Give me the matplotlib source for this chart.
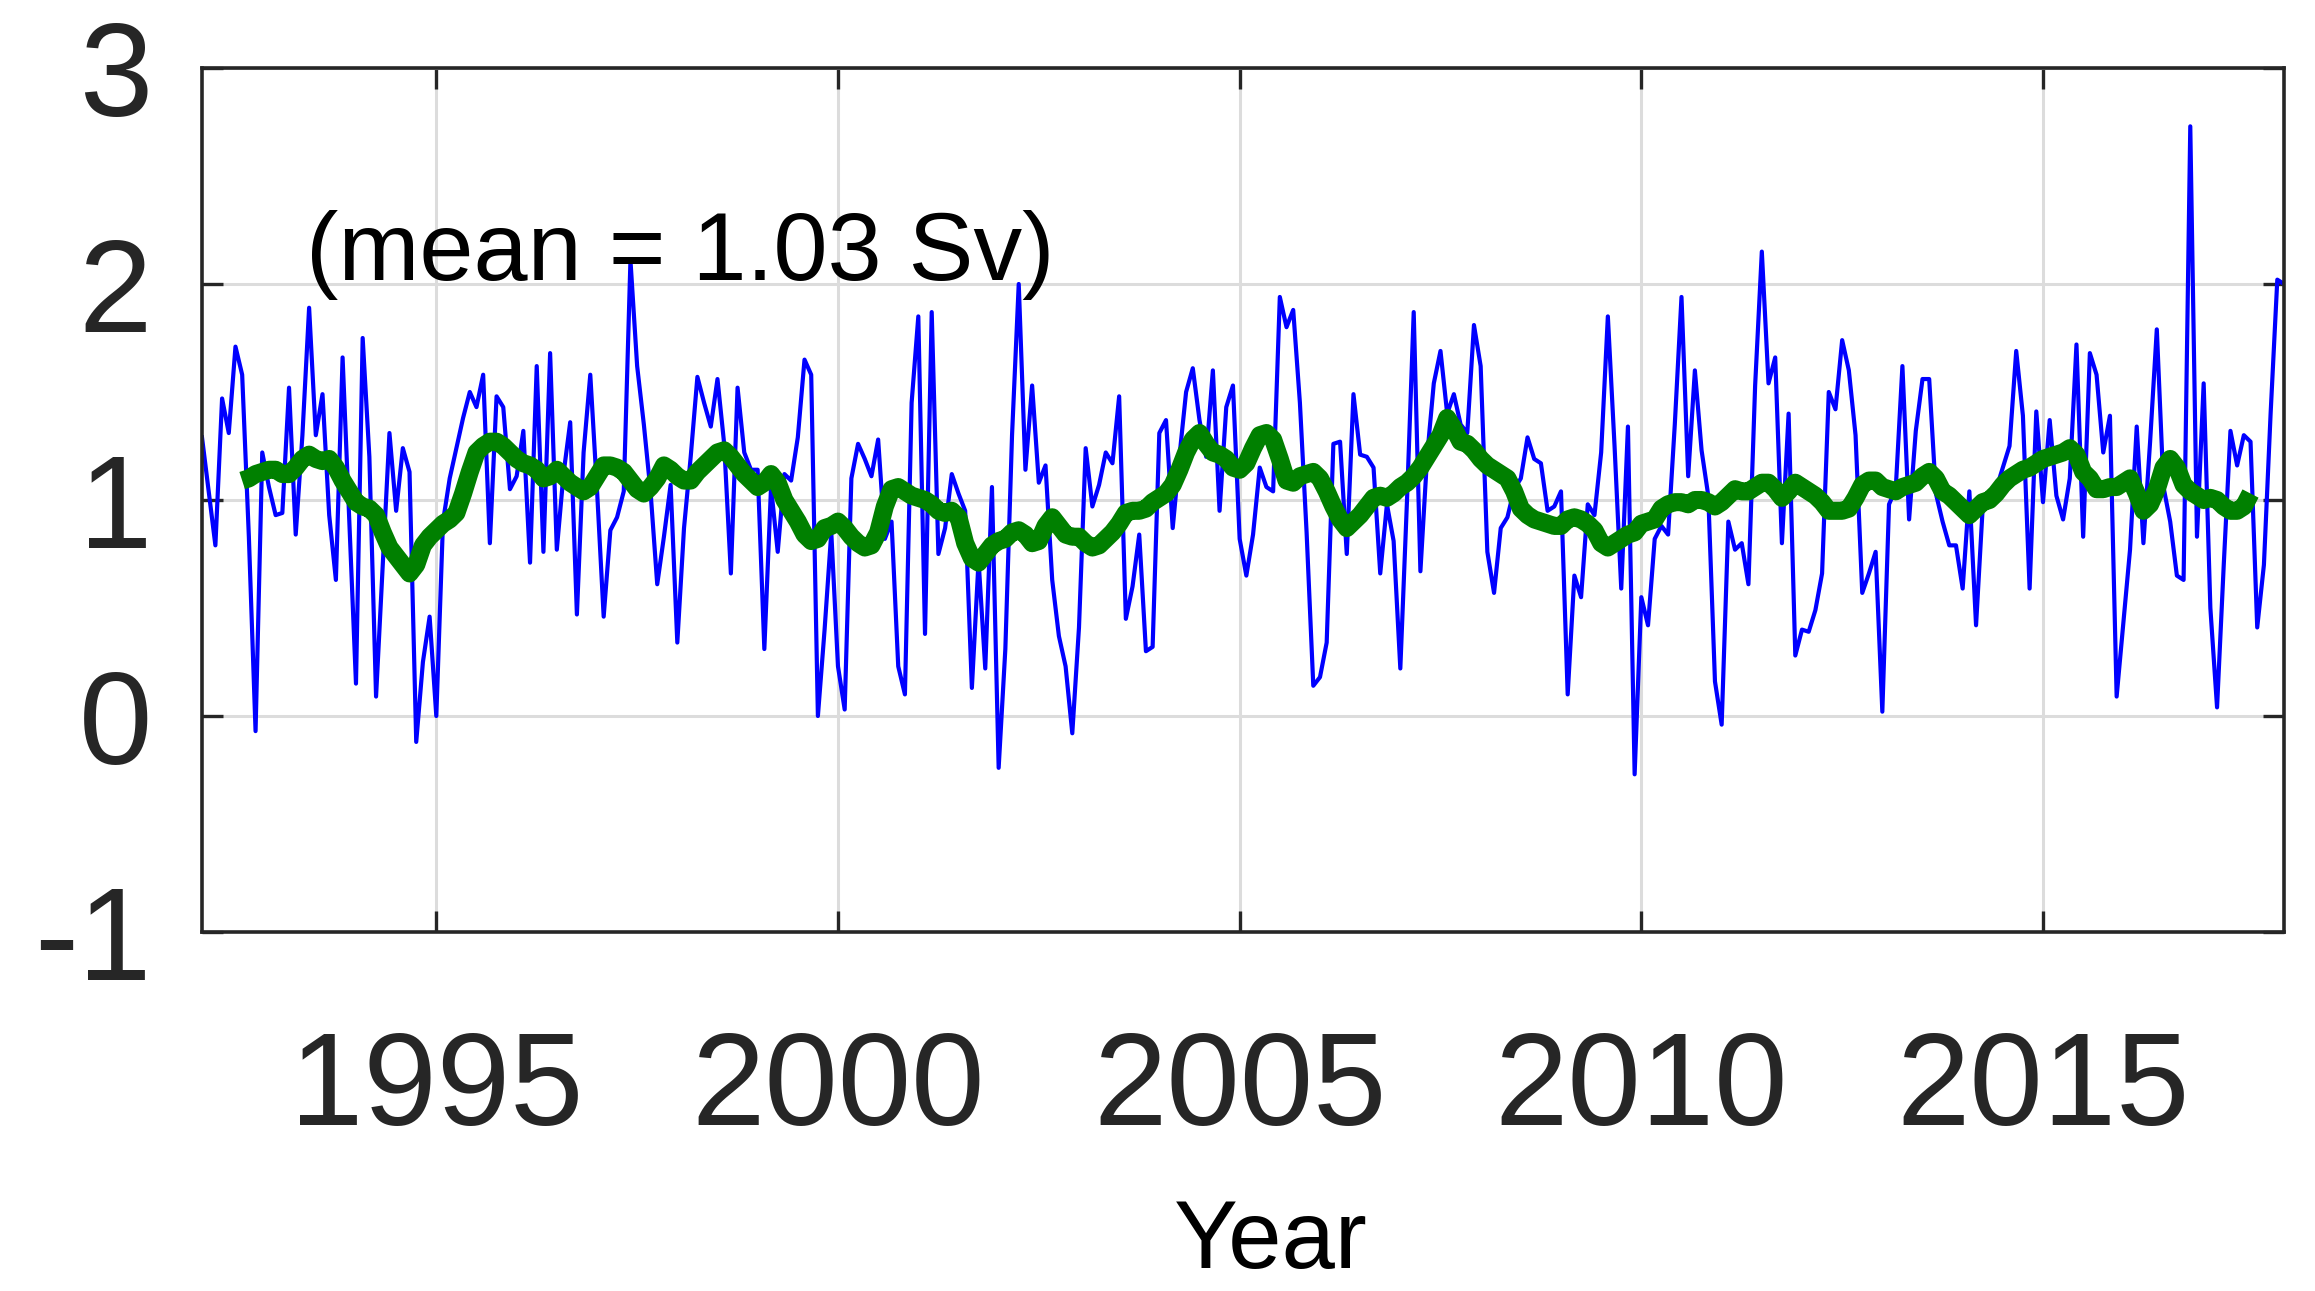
import numpy as np
import matplotlib
matplotlib.use("Agg")
import matplotlib.pyplot as plt

# ---------------- data ----------------
start_year = 1992          # first sample is Feb 1992, monthly to Jan 2018
transport = [
    1.29, 1.04, 0.79, 1.47, 1.31, 1.71, 1.58, 0.83, -0.07, 1.22,
    1.06, 0.93, 0.94, 1.52, 0.84, 1.30, 1.89, 1.30, 1.49, 0.93,
    0.63, 1.66, 0.90, 0.15, 1.75, 1.20, 0.09, 0.70, 1.31, 0.95,
    1.24, 1.13, -0.12, 0.25, 0.46, 0.00, 0.90, 1.10, 1.24, 1.38,
    1.50, 1.43, 1.58, 0.80, 1.48, 1.43, 1.05, 1.11, 1.32, 0.71,
    1.62, 0.76, 1.68, 0.77, 1.12, 1.36, 0.47, 1.22, 1.58, 1.05,
    0.46, 0.86, 0.92, 1.04, 2.11, 1.62, 1.35, 1.04, 0.61, 0.83,
    1.07, 0.34, 0.87, 1.20, 1.57, 1.45, 1.34, 1.56, 1.26, 0.66,
    1.52, 1.22, 1.14, 1.14, 0.31, 1.06, 0.76, 1.12, 1.09, 1.29,
    1.65, 1.58, 0.00, 0.40, 0.85, 0.23, 0.03, 1.10, 1.26, 1.19,
    1.11, 1.28, 0.82, 0.90, 0.23, 0.10, 1.45, 1.85, 0.38, 1.87,
    0.75, 0.87, 1.12, 1.03, 0.95, 0.13, 0.72, 0.22, 1.06, -0.24,
    0.31, 1.30, 2.00, 1.14, 1.53, 1.08, 1.16, 0.63, 0.37, 0.23,
    -0.08, 0.41, 1.24, 0.97, 1.07, 1.22, 1.17, 1.48, 0.45, 0.60,
    0.84, 0.30, 0.32, 1.31, 1.37, 0.87, 1.20, 1.50, 1.61, 1.37,
    1.20, 1.60, 0.95, 1.43, 1.53, 0.82, 0.65, 0.84, 1.15, 1.06,
    1.04, 1.94, 1.80, 1.88, 1.45, 0.85, 0.14, 0.18, 0.34, 1.26,
    1.27, 0.75, 1.49, 1.21, 1.20, 1.15, 0.66, 0.98, 0.81, 0.22,
    1.00, 1.87, 0.67, 1.20, 1.54, 1.69, 1.40, 1.49, 1.35, 1.31,
    1.81, 1.62, 0.76, 0.57, 0.87, 0.92, 1.05, 1.10, 1.29, 1.19,
    1.17, 0.95, 0.97, 1.04, 0.10, 0.65, 0.55, 0.98, 0.93, 1.22,
    1.85, 1.25, 0.59, 1.34, -0.27, 0.55, 0.42, 0.82, 0.88, 0.84,
    1.35, 1.94, 1.11, 1.60, 1.23, 1.02, 0.16, -0.04, 0.90, 0.77,
    0.80, 0.61, 1.53, 2.15, 1.54, 1.66, 0.80, 1.40, 0.28, 0.40,
    0.39, 0.49, 0.66, 1.50, 1.42, 1.74, 1.60, 1.30, 0.57, 0.66,
    0.76, 0.02, 0.98, 1.05, 1.62, 0.91, 1.32, 1.56, 1.56, 1.03,
    0.90, 0.79, 0.79, 0.59, 1.04, 0.42, 0.97, 1.03, 1.05, 1.15,
    1.25, 1.69, 1.39, 0.59, 1.41, 0.99, 1.37, 1.02, 0.91, 1.10,
    1.72, 0.83, 1.68, 1.58, 1.22, 1.39, 0.09, 0.43, 0.77, 1.34,
    0.80, 1.27, 1.79, 1.06, 0.90, 0.65, 0.63, 2.73, 0.83, 1.54,
    0.50, 0.04, 0.70, 1.32, 1.16, 1.30, 1.27, 0.41, 0.70, 1.40,
    2.02, 2.00,
]

smooth_offset = 6          # smoothed curve starts at the 7th month
smoothed = [
    1.09, 1.10, 1.12, 1.13, 1.14, 1.14, 1.12, 1.12, 1.15, 1.19,
    1.21, 1.19, 1.18, 1.19, 1.15, 1.09, 1.04, 0.99, 0.97, 0.96,
    0.93, 0.85, 0.78, 0.74, 0.70, 0.66, 0.70, 0.79, 0.83, 0.86,
    0.89, 0.91, 0.94, 1.03, 1.13, 1.22, 1.25, 1.27, 1.27, 1.25,
    1.22, 1.19, 1.17, 1.16, 1.14, 1.10, 1.11, 1.14, 1.11, 1.08,
    1.06, 1.04, 1.06, 1.11, 1.16, 1.16, 1.15, 1.13, 1.09, 1.05,
    1.03, 1.06, 1.10, 1.16, 1.14, 1.11, 1.09, 1.09, 1.13, 1.16,
    1.19, 1.22, 1.23, 1.20, 1.16, 1.12, 1.09, 1.06, 1.08, 1.12,
    1.08, 1.00, 0.95, 0.90, 0.84, 0.81, 0.82, 0.87, 0.88, 0.90,
    0.87, 0.83, 0.80, 0.78, 0.79, 0.85, 0.97, 1.05, 1.06, 1.04,
    1.02, 1.01, 1.00, 0.98, 0.95, 0.94, 0.95, 0.92, 0.80, 0.73,
    0.71, 0.75, 0.79, 0.81, 0.82, 0.85, 0.86, 0.84, 0.80, 0.81,
    0.88, 0.92, 0.88, 0.84, 0.83, 0.83, 0.80, 0.78, 0.79, 0.82,
    0.85, 0.89, 0.94, 0.95, 0.95, 0.96, 0.99, 1.01, 1.03, 1.07,
    1.14, 1.22, 1.28, 1.31, 1.26, 1.22, 1.21, 1.19, 1.15, 1.14,
    1.17, 1.24, 1.30, 1.31, 1.28, 1.19, 1.09, 1.08, 1.11, 1.12,
    1.13, 1.10, 1.04, 0.97, 0.91, 0.87, 0.90, 0.93, 0.97, 1.01,
    1.02, 1.01, 1.03, 1.06, 1.08, 1.11, 1.15, 1.20, 1.25, 1.30,
    1.38, 1.33, 1.27, 1.26, 1.23, 1.19, 1.16, 1.14, 1.12, 1.10,
    1.04, 0.96, 0.93, 0.91, 0.90, 0.89, 0.88, 0.88, 0.91, 0.92,
    0.91, 0.89, 0.86, 0.80, 0.78, 0.80, 0.82, 0.84, 0.85, 0.89,
    0.90, 0.91, 0.96, 0.98, 0.99, 0.99, 0.98, 1.00, 1.00, 0.99,
    0.97, 0.99, 1.02, 1.05, 1.04, 1.04, 1.06, 1.08, 1.08, 1.05,
    1.01, 1.04, 1.08, 1.06, 1.04, 1.02, 0.99, 0.95, 0.95, 0.95,
    0.96, 1.01, 1.07, 1.09, 1.09, 1.06, 1.05, 1.04, 1.06, 1.07,
    1.08, 1.11, 1.13, 1.10, 1.04, 1.02, 0.99, 0.96, 0.93, 0.96,
    0.99, 1.00, 1.03, 1.07, 1.10, 1.12, 1.14, 1.15, 1.17, 1.19,
    1.20, 1.21, 1.22, 1.24, 1.21, 1.13, 1.10, 1.05, 1.05, 1.06,
    1.06, 1.08, 1.10, 1.03, 0.95, 0.98, 1.05, 1.15, 1.19, 1.15,
    1.07, 1.04, 1.02, 1.00, 1.01, 1.00, 0.97, 0.95, 0.95, 0.97,
    1.03,
]

ytick_vals = [-1, 0, 1, 2, 3]
ytick_labels = ["-1", "0", "1", "2", "3"]
xtick_vals = [1995, 2000, 2005, 2010, 2015]
xtick_labels = ["1995", "2000", "2005", "2010", "2015"]
annotation = "(mean = 1.03 Sv)"
xlabel = "Year"

# time axis: monthly samples
t = start_year + np.arange(1, len(transport) + 1) / 12.0
t_s = t[smooth_offset:smooth_offset + len(smoothed)]

# ---------------- figure ----------------
plt.rcParams["font.family"] = ["Liberation Sans", "DejaVu Sans"]
W, H = 2315, 1291
fig = plt.figure(figsize=(W / 100, H / 100), dpi=100)
L, R, T, B = 202, 2284, 68, 932
ax = fig.add_axes([L / W, 1 - B / H, (R - L) / W, (B - T) / H])

dark = "#262626"
ax.plot(t, transport, color="#0000ff", lw=3.0, zorder=3)
ax.plot(t_s, smoothed, color="#008000", lw=13, solid_capstyle="butt", zorder=4)

ax.set_xlim(t[0], t[-1])
ax.set_ylim(-1, 3)
ax.set_xticks(xtick_vals)
ax.set_xticklabels(xtick_labels)
ax.set_yticks(ytick_vals)
ax.set_yticklabels(ytick_labels)

ax.grid(True, color="#dcdcdc", lw=2.2)
ax.set_axisbelow(True)
for s in ax.spines.values():
    s.set_color(dark)
    s.set_linewidth(2.6)
    s.set_zorder(5)

ax.tick_params(axis="both", direction="in", length=15, width=2.4, color=dark,
               labelcolor=dark, labelsize=95, top=True, right=True)
ax.tick_params(axis="x", pad=70)
ax.tick_params(axis="y", pad=36)

ax.text(1993.38, 2.02, annotation, fontsize=70, color="black", va="baseline", ha="left", zorder=6)

fig.text(1271 / W, 1 - 1268 / H, xlabel, fontsize=69, color="black", ha="center", va="baseline")

fig.savefig("out.png", dpi=100)
